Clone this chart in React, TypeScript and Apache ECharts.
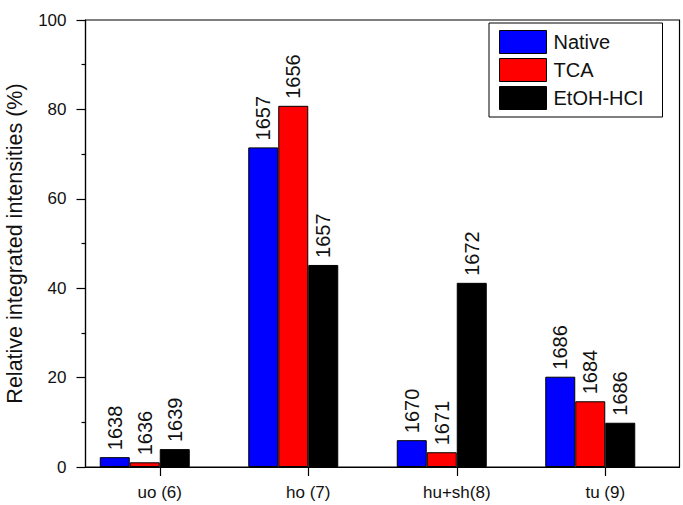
import React, { useEffect, useRef } from "react";
import * as echarts from "echarts";

const categories = ["uo (6)", "ho (7)", "hu+sh(8)", "tu (9)"];
const seriesNames = ["Native", "TCA", "EtOH-HCI"];
const nativeValues = [2.2, 71.5, 6.0, 20.2];
const tcaValues = [1.05, 80.8, 3.3, 14.7];
const etohValues = [4.0, 45.2, 41.2, 9.9];
const nativeLabels = ["1638", "1657", "1670", "1686"];
const tcaLabels = ["1636", "1656", "1671", "1684"];
const etohLabels = ["1639", "1657", "1672", "1686"];
const seriesColors = ["#0000ff", "#ff0000", "#000000"];
const yTicks = [0, 20, 40, 60, 80, 100];

const FONT = "Liberation Sans, Arial, sans-serif";

export default function App() {
  const ref = useRef<HTMLDivElement>(null);
  useEffect(() => {
    if (!ref.current) return;
    const chart = echarts.init(ref.current, null, { renderer: "svg" });
    const values = [nativeValues, tcaValues, etohValues];
    const labels = [nativeLabels, tcaLabels, etohLabels];
    const barSeries: any[] = seriesNames.map((name, i) => ({
      name,
      type: "bar",
      data: values[i],
      barWidth: 30,
      barGap: "0%",
      itemStyle: { color: seriesColors[i], borderColor: "#000", borderWidth: 1 },
      label: {
        show: true,
        position: "top",
        rotate: 90,
        align: "left",
        verticalAlign: "middle",
        distance: 7,
        fontFamily: FONT,
        fontSize: 20,
        color: "#111",
        formatter: (p: any) => labels[i][p.dataIndex],
      },
    }));
    // empty spacer series so the group sits like the original (tick between 2nd and 3rd bar)
    barSeries.push({
      name: "spacer",
      type: "bar",
      data: categories.map(() => "-"),
      barWidth: 30,
      barGap: "0%",
      silent: true,
    });
    chart.setOption({
      animation: false,
      backgroundColor: "#fff",
      textStyle: { fontFamily: FONT },
      grid: {
        left: 85.5,
        right: 3.5,
        top: 20,
        bottom: 38,
        containLabel: false,
        outerBoundsMode: "none",
        show: true,
        borderColor: "#000",
        borderWidth: 1.2,
        backgroundColor: "transparent",
      },
      legend: {
        data: seriesNames,
        orient: "vertical",
        left: 489,
        top: 23,
        itemWidth: 47,
        itemHeight: 23,
        itemGap: 4,
        icon: "rect",
        padding: [7, 19, 7, 10],
        borderColor: "#000",
        borderWidth: 1,
        backgroundColor: "#fff",
        textStyle: { fontFamily: FONT, fontSize: 20, color: "#111", padding: [0, 0, 0, 2] },
        itemStyle: { borderColor: "#000", borderWidth: 1 },
      },
      xAxis: {
        type: "category",
        data: categories,
        axisLine: { lineStyle: { color: "#000", width: 1.2 } },
        axisTick: { show: true, alignWithLabel: true, length: 9, lineStyle: { color: "#000", width: 1.2 } },
        axisLabel: { fontFamily: FONT, fontSize: 17, color: "#111", margin: 17 },
        splitLine: { show: false },
      },
      yAxis: {
        type: "value",
        min: yTicks[0],
        max: yTicks[yTicks.length - 1],
        interval: 20,
        name: "Relative integrated intensities (%)",
        nameLocation: "middle",
        nameGap: 60,
        nameTextStyle: { fontFamily: FONT, fontSize: 21.5, color: "#111" },
        axisLine: { show: true, lineStyle: { color: "#000", width: 1.2 } },
        axisTick: { show: true, length: 9, lineStyle: { color: "#000", width: 1.2 } },
        minorTick: { show: true, splitNumber: 2, length: 4, lineStyle: { color: "#000", width: 1.2 } },
        axisLabel: { fontFamily: FONT, fontSize: 17, color: "#111", margin: 19 },
        splitLine: { show: false },
      },
      series: barSeries,
    });
    return () => chart.dispose();
  }, []);
  return <div ref={ref} style={{ width: 683, height: 505, position: "absolute", left: 0, top: 0 }} />;
}
